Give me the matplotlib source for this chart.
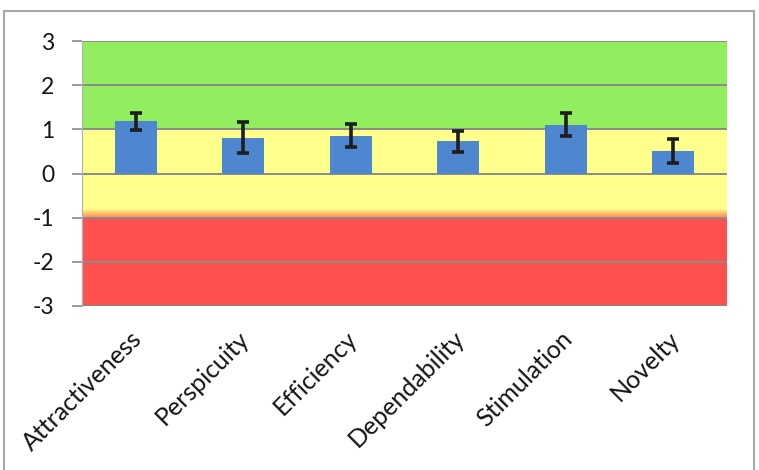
import numpy as np
import matplotlib
matplotlib.use("Agg")
import matplotlib.pyplot as plt
from matplotlib.colors import to_rgb, ListedColormap
from matplotlib.patches import Rectangle
import matplotlib.transforms as mtransforms

# UEQ scale means with confidence intervals
scales = ["Attractiveness", "Perspicuity", "Efficiency",
          "Dependability", "Stimulation", "Novelty"]
means = [1.18, 0.81, 0.85, 0.73, 1.10, 0.51]
ci = [0.20, 0.35, 0.26, 0.24, 0.26, 0.28]
yticks = [-3, -2, -1, 0, 1, 2, 3]

# benchmark zones
GREEN = "#92EE5E"
YELLOW = "#FFFF8C"
ORANGE = "#FF9A55"
RED = "#FF5050"
BAR = "#4F86D0"

plt.rcParams["font.family"] = ["Lato", "DejaVu Sans"]

fig = plt.figure(figsize=(7.59, 4.70), dpi=100)
ax = fig.add_axes([82 / 759, 1 - 306 / 470, 645 / 759, 265 / 470])

# background: vertical color ramp by y value
ys = np.linspace(3, -3, 600)
cols = []
for y in ys:
    if y >= 1:
        c = to_rgb(GREEN)
    elif y >= -0.8:
        c = to_rgb(YELLOW)
    elif y >= -1:
        t = min(1.0, (-0.8 - y) / 0.17)
        a, b = np.array(to_rgb(YELLOW)), np.array(to_rgb(ORANGE))
        c = tuple(a + (b - a) * t)
    else:
        c = to_rgb(RED)
    cols.append(c)
cmap = ListedColormap(cols)
x = np.arange(len(scales))
ax.imshow(np.arange(600).reshape(-1, 1), cmap=cmap, aspect="auto",
          extent=(-0.5, len(scales) - 0.5, -3, 3), interpolation="nearest",
          zorder=0)

for yv in yticks:
    ax.axhline(yv, color="#8A8A8A", lw=1.4, zorder=1)

ax.bar(x, means, width=0.39, color=BAR, zorder=2)
ax.errorbar(x, means, yerr=ci, fmt="none", ecolor="#1E1E1E", elinewidth=2.6,
            capsize=4.5, capthick=2.6, zorder=3)

ax.set_xlim(-0.5, len(scales) - 0.5)
ax.set_ylim(-3, 3)
ax.set_yticks(yticks)
ax.set_yticklabels([str(v) for v in yticks], fontsize=16.5, color="#151515")
ax.tick_params(axis="y", length=7, width=1.2, color="#8A8A8A", pad=13)
ax.set_xticks(x)
ax.set_xticklabels(scales, rotation=45, ha="right", rotation_mode="anchor",
                   fontsize=18, color="#151515")
ax.tick_params(axis="x", length=0, pad=15)
offset = mtransforms.ScaledTranslation(-4 / 72, 0, fig.dpi_scale_trans)
for lbl in ax.get_xticklabels():
    lbl.set_transform(lbl.get_transform() + offset)

for side in ["top", "right", "bottom"]:
    ax.spines[side].set_visible(False)
ax.spines["left"].set_color("#B0B0B0")

# outer chart frame
fig.patches.append(Rectangle((3.5 / 759, -0.1), 750.5 / 759, 1.1 - 11 / 470,
                             transform=fig.transFigure, fill=False,
                             edgecolor="#A8A8A8", lw=1.5))

fig.savefig("out.png", dpi=100)
